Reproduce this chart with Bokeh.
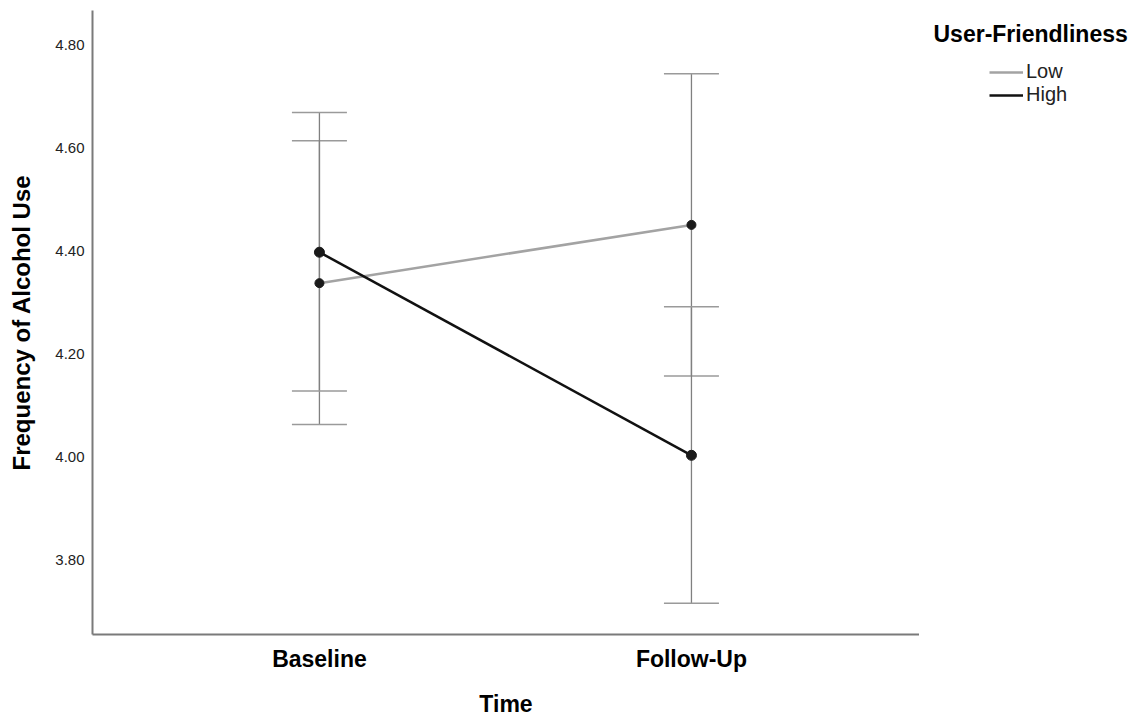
from bokeh.plotting import figure
from bokeh.layouts import row
from bokeh.models import (Range1d, FixedTicker, Whisker, TeeHead, ColumnDataSource,
                          Legend, LegendItem, Label)
from bokeh.embed import file_html
from bokeh.resources import INLINE

# ---- data ----
categories = ["Baseline", "Follow-Up"]
x_pos = [0, 1]
groups = ["Low", "High"]
low_mean = [4.338, 4.451]
low_lower = [4.064, 4.158]
low_upper = [4.614, 4.744]
high_mean = [4.398, 4.004]
high_lower = [4.129, 3.717]
high_upper = [4.669, 4.292]
y_ticks = [3.80, 4.00, 4.20, 4.40, 4.60, 4.80]
y_tick_labels = ["3.80", "4.00", "4.20", "4.40", "4.60", "4.80"]
legend_title = "User-Friendliness"

FONT = "Liberation Sans"
LOW_COLOR = "#a3a3a3"
HIGH_COLOR = "#111111"

p = figure(width=919, height=719, output_backend="svg", toolbar_location=None,
           x_range=Range1d(-0.61, 1.613), y_range=Range1d(3.6564, 4.8669),
           min_border_left=92, min_border_right=0, min_border_top=10,
           min_border_bottom=85)
p.outline_line_color = None
p.grid.visible = False
p.background_fill_color = "white"
p.border_fill_color = "white"

# axes
p.xaxis.ticker = FixedTicker(ticks=x_pos)
p.xaxis.major_label_overrides = {x: c for x, c in zip(x_pos, categories)}
p.yaxis.ticker = FixedTicker(ticks=y_ticks)
p.yaxis.major_label_overrides = {t: s for t, s in zip(y_ticks, y_tick_labels)}
for ax in (p.xaxis[0], p.yaxis[0]):
    ax.major_tick_line_color = None
    ax.minor_tick_line_color = None
    ax.major_tick_out = 0
    ax.major_tick_in = 0
    ax.axis_line_color = "#7a7a7a"
    ax.axis_line_width = 2
    ax.axis_label_text_font = FONT
    ax.axis_label_text_font_style = "bold"
    ax.axis_label_text_color = "#000000"
    ax.major_label_text_font = FONT

p.xaxis.axis_label = "Time"
p.xaxis.axis_label_text_font_size = "23px"
p.xaxis.major_label_text_font_size = "23px"
p.xaxis.major_label_text_font_style = "bold"
p.xaxis.major_label_text_color = "#000000"
p.xaxis.major_label_standoff = 11
p.xaxis.axis_label_standoff = 16

p.yaxis.axis_label = "Frequency of Alcohol Use"
p.yaxis.axis_label_text_font_size = "24px"
p.yaxis.major_label_text_font_size = "15px"
p.yaxis.major_label_text_color = "#222222"
p.yaxis.major_label_standoff = 8
p.yaxis.axis_label_standoff = 17

# error bars
for lo, up in ((low_lower, low_upper), (high_lower, high_upper)):
    src = ColumnDataSource(dict(x=x_pos, lower=lo, upper=up))
    w = Whisker(base="x", lower="lower", upper="upper", source=src,
                line_color="#808080", line_width=1.3,
                upper_head=TeeHead(size=55, line_color="#9a9a9a", line_width=1.5),
                lower_head=TeeHead(size=55, line_color="#9a9a9a", line_width=1.5))
    p.add_layout(w)

# lines and markers
p.line(x_pos, low_mean, line_color=LOW_COLOR, line_width=2.5)
p.line(x_pos, high_mean, line_color=HIGH_COLOR, line_width=2.5)
p.scatter(x_pos, low_mean, size=9, color="#1a1a1a")
p.scatter(x_pos, high_mean, size=10, color="#1a1a1a")

# ---- legend panel (separate figure to the right; its frame aligns with p's) ----
# the proxy lines reuse the series but sit outside this panel's ranges
q = figure(width=214, height=719, output_backend="svg", toolbar_location=None,
           x_axis_type=None, y_axis_type=None,
           x_range=Range1d(100, 101), y_range=Range1d(100, 101),
           min_border_left=0, min_border_right=0, min_border_top=10,
           min_border_bottom=85)
q.outline_line_color = None
q.grid.visible = False
q.border_fill_color = "white"
q.background_fill_color = "white"
leg_low = q.line(x_pos, low_mean, line_color=LOW_COLOR, line_width=2.5)
leg_high = q.line(x_pos, high_mean, line_color=HIGH_COLOR, line_width=2.5)

legend = Legend(items=[LegendItem(label=groups[0], renderers=[leg_low]),
                       LegendItem(label=groups[1], renderers=[leg_high])],
                location=(70, 528), orientation="vertical",
                border_line_color=None, background_fill_alpha=0,
                padding=0, margin=0, spacing=0, glyph_width=34, glyph_height=22,
                label_standoff=3, label_height=22,
                label_text_font=FONT, label_text_font_size="20px",
                label_text_color="#222222")
q.add_layout(legend, "center")

title = Label(x=14, y=601, x_units="screen", y_units="screen",
              text=legend_title, text_font=FONT, text_font_size="23px",
              text_font_style="bold", text_baseline="middle", text_align="left",
              text_color="#000000")
q.add_layout(title)

layout = row(p, q, spacing=0)
open("out.html", "w").write(file_html(layout, INLINE))
